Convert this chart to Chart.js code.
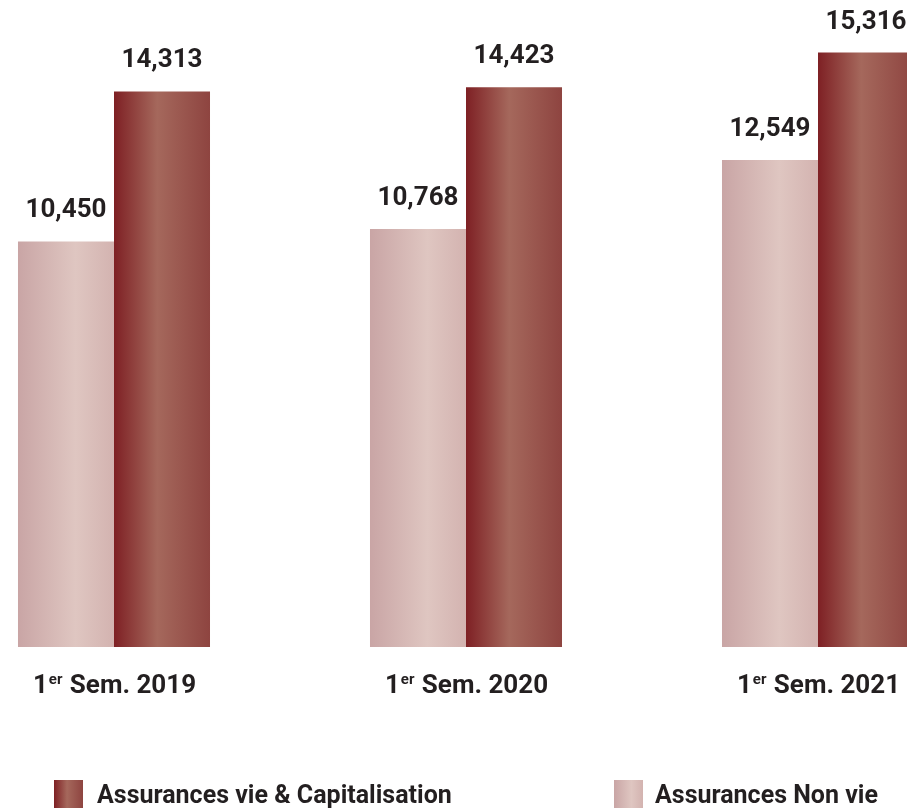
<!DOCTYPE html>
<html>
<head>
<meta charset="utf-8">
<script src="https://cdn.jsdelivr.net/npm/chart.js@4/dist/chart.umd.min.js"></script>
<style>
  html, body { margin: 0; padding: 0; background: #fff; overflow: hidden; }
  #wrap { position: relative; width: 907px; height: 810px; }
  #chart { position: absolute; left: 0; top: 0; }
  .box { position: absolute; width: 29px; height: 28px; top: 780px; }
  .txt { position: absolute; top: 780px; height: 28px; line-height: 28px; font: bold 25px Roboto, sans-serif; color: #231f20; white-space: nowrap; }
</style>
</head>
<body>
<div id="wrap">
  <canvas id="chart" width="907" height="810"></canvas>
  <div class="box" id="boxVie" style="left:54px"></div>
  <div class="txt" id="txtVie" style="left:97px"></div>
  <div class="box" id="boxNonVie" style="left:614px"></div>
  <div class="txt" id="txtNonVie" style="left:655px"></div>
</div>
<script>
const categories = ["1er Sem. 2019", "1er Sem. 2020", "1er Sem. 2021"];
const nonVie = [10450, 10768, 12549];
const vie = [14313, 14423, 15316];
const nonVieName = "Assurances Non vie";
const vieName = "Assurances vie & Capitalisation";

const lightStops = [[0, "#c9a5a5"], [0.6, "#dfc6c1"], [1, "#d3b3b0"]];
const darkStops = [[0, "#7e2024"], [0.45, "#a5685c"], [1, "#8e4440"]];

const css_gradient = (stops) =>
  "linear-gradient(to right, " + stops.map(([o, c]) => c + " " + (o * 100) + "%").join(", ") + ")";

document.getElementById("boxVie").style.background = css_gradient(darkStops);
document.getElementById("boxNonVie").style.background = css_gradient(lightStops);
document.getElementById("txtVie").textContent = vieName;
document.getElementById("txtNonVie").textContent = nonVieName;

// horizontal gradient across each bar, once the bar has a position
const bar_gradient = (stops, fallback) => (ctx) => {
  const el = ctx.element;
  if (!el || !isFinite(el.x) || !isFinite(el.width)) return fallback;
  const left = el.x - el.width / 2;
  const g = ctx.chart.ctx.createLinearGradient(left, 0, left + el.width, 0);
  stops.forEach(([o, c]) => g.addColorStop(o, c));
  return g;
};

const fmt = (n) => String(n).replace(/\B(?=(\d{3})+(?!\d))/g, ",");

const textPlugin = {
  id: "texts",
  afterDatasetsDraw(chart) {
    const c = chart.ctx;
    c.save();
    c.fillStyle = "#231f20";
    c.textBaseline = "alphabetic";

    // values above the bars
    c.textAlign = "center";
    c.font = "bold 26px Roboto";
    chart.data.datasets.forEach((ds, di) => {
      chart.getDatasetMeta(di).data.forEach((bar, i) => {
        c.fillText(fmt(ds.data[i]), bar.x, bar.y - 24);
      });
    });

    // category labels with superscript "er"
    const xs = chart.scales.x;
    c.textAlign = "left";
    chart.data.labels.forEach((lab, i) => {
      const head = lab.slice(0, 1);
      const sup = lab.slice(1, 3);
      const tail = lab.slice(3);
      c.font = "bold 26px Roboto";
      const wHead = c.measureText(head).width;
      const wTail = c.measureText(tail).width;
      c.font = "bold 15px Roboto";
      const wSup = c.measureText(sup).width + 1;
      let x = xs.getPixelForTick(i) - (wHead + wSup + wTail) / 2;
      c.font = "bold 26px Roboto";
      c.fillText(head, x, 693);
      x += wHead + 1;
      c.font = "bold 15px Roboto";
      c.fillText(sup, x, 684);
      x += wSup;
      c.font = "bold 26px Roboto";
      c.fillText(tail, x, 693);
    });
    c.restore();
  }
};

const chart = new Chart(document.getElementById("chart").getContext("2d"), {
  type: "bar",
  data: {
    labels: categories,
    datasets: [
      {
        label: nonVieName,
        data: nonVie,
        backgroundColor: bar_gradient(lightStops, "#d6b9b6"),
        borderWidth: 0,
        clip: false,
      },
      {
        label: vieName,
        data: vie,
        backgroundColor: bar_gradient(darkStops, "#94453f"),
        borderWidth: 0,
        clip: false,
      },
    ]
  },
  options: {
    responsive: false,
    animation: false,
    events: [],
    layout: {
      padding: { left: 114, right: 89, top: 26, bottom: 163 },
    },
    datasets: {
      bar: { categoryPercentage: 0.5455, barPercentage: 1 }
    },
    scales: {
      x: { display: false, offset: false },
      y: { display: false, min: 0, max: 16000 }
    },
    plugins: {
      legend: { display: false },
      tooltip: { enabled: false },
    },
  },
  plugins: [textPlugin]
});
chart.update();
</script>
</body>
</html>
